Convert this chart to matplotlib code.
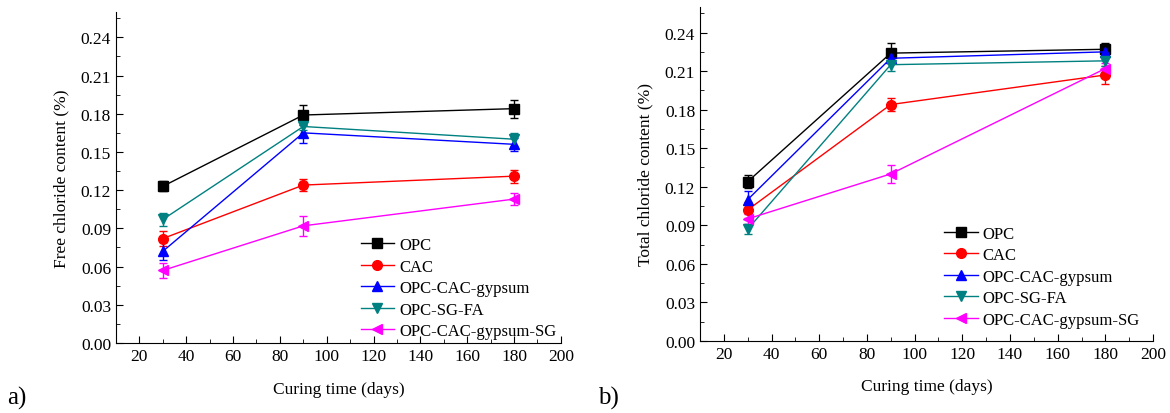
import matplotlib
matplotlib.use('Agg')
import matplotlib.pyplot as plt
from matplotlib.lines import Line2D
from matplotlib.ticker import MultipleLocator, FormatStrFormatter

plt.rcParams['font.family'] = ['Liberation Serif', 'DejaVu Serif']

days = [30, 90, 180]
labels = ['OPC', 'CAC', 'OPC-CAC-gypsum', 'OPC-SG-FA', 'OPC-CAC-gypsum-SG']
colors = ['#000000', '#FF0000', '#0000FF', '#008080', '#FF00FF']
markers = ['s', 'o', '^', 'v', '<']

# free chloride (a)
free_opc = [0.123, 0.179, 0.184]
free_cac = [0.082, 0.124, 0.131]
free_gyp = [0.072, 0.165, 0.156]
free_sgfa = [0.097, 0.170, 0.160]
free_gypsg = [0.057, 0.092, 0.113]
free_err_opc = [0.004, 0.008, 0.007]
free_err_cac = [0.006, 0.005, 0.005]
free_err_gyp = [0.007, 0.008, 0.005]
free_err_sgfa = [0.005, 0.003, 0.005]
free_err_gypsg = [0.006, 0.008, 0.005]

# total chloride (b)
tot_opc = [0.124, 0.224, 0.227]
tot_cac = [0.102, 0.184, 0.207]
tot_gyp = [0.110, 0.220, 0.225]
tot_sgfa = [0.087, 0.215, 0.218]
tot_gypsg = [0.095, 0.130, 0.212]
tot_err_opc = [0.005, 0.008, 0.005]
tot_err_cac = [0.006, 0.005, 0.007]
tot_err_gyp = [0.007, 0.004, 0.004]
tot_err_sgfa = [0.004, 0.005, 0.004]
tot_err_gypsg = [0.004, 0.007, 0.004]

free = [free_opc, free_cac, free_gyp, free_sgfa, free_gypsg]
free_err = [free_err_opc, free_err_cac, free_err_gyp, free_err_sgfa, free_err_gypsg]
tot = [tot_opc, tot_cac, tot_gyp, tot_sgfa, tot_gypsg]
tot_err = [tot_err_opc, tot_err_cac, tot_err_gyp, tot_err_sgfa, tot_err_gypsg]

fig = plt.figure(figsize=(11.7, 4.14), dpi=100)
ax1 = fig.add_axes([0.0991, 0.169, 0.3803, 0.800])
ax2 = fig.add_axes([0.5983, 0.174, 0.3872, 0.807])

def panel(ax, vals, errs, ylabel, leg_xy):
    handles = []
    for i in range(len(vals)):
        ax.errorbar(days, vals[i], yerr=errs[i], color=colors[i], marker=markers[i],
                    markersize=7, linewidth=1, elinewidth=1, capsize=3,
                    capthick=1)
        handles.append(Line2D([], [], color=colors[i], marker=markers[i],
                              markersize=7, linewidth=1, label=labels[i]))
    ax.set_xlim(10, 200)
    ax.set_ylim(0, 0.26)
    ax.xaxis.set_major_locator(MultipleLocator(20))
    ax.xaxis.set_minor_locator(MultipleLocator(10))
    ax.yaxis.set_major_locator(MultipleLocator(0.03))
    ax.yaxis.set_minor_locator(MultipleLocator(0.015))
    ax.yaxis.set_major_formatter(FormatStrFormatter('%.2f'))
    ax.spines['top'].set_visible(False)
    ax.spines['right'].set_visible(False)
    ax.tick_params(which='both', direction='in', labelsize=12.5)
    ax.tick_params(which='major', length=5)
    ax.tick_params(which='minor', length=3)
    ax.set_xlabel('Curing time (days)', fontsize=12.5, labelpad=12)
    ax.set_ylabel(ylabel, fontsize=12.5, labelpad=8)
    ax.legend(handles=handles, loc='upper left', bbox_to_anchor=leg_xy,
              frameon=False, fontsize=12, handlelength=2.0, handletextpad=0.3,
              labelspacing=0.33, borderpad=0, borderaxespad=0)

panel(ax1, free, free_err, 'Free chloride content (%)', (0.55, 0.32))
panel(ax2, tot, tot_err, 'Total chloride content (%)', (0.539, 0.345))

fig.text(0.006, 0.022, 'a)', fontsize=18)
fig.text(0.511, 0.022, 'b)', fontsize=18)

fig.savefig('out.png', dpi=100)
